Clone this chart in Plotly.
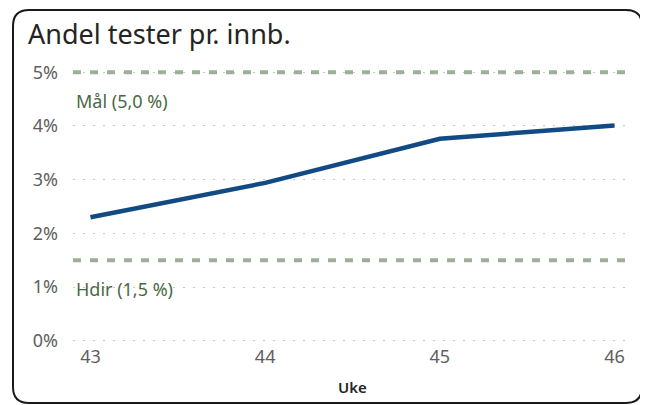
import plotly.graph_objects as go

# data
weeks = [43, 44, 45, 46]
share_tested = [2.30, 2.94, 3.76, 4.01]   # percent
goal_names = ["Mål (5,0 %)", "Hdir (1,5 %)"]
goal_values = [5.0, 1.5]
y_ticks = [0, 1, 2, 3, 4, 5]

# page has an 8px body margin, so the figure is a bit smaller than the window
W, H = 640, 397
L, R, T, B = 65, 16, 61, 61
pw, ph = W - L - R, H - T - B
FONT = "Segoe UI, Noto Sans, sans-serif"


def px(x):
    return (x - L) / pw


def py(y):
    return (H - B - y) / ph


fig = go.Figure()

for name, val in zip(goal_names, goal_values):
    fig.add_trace(go.Scatter(
        x=[42.9, 46.1], y=[val, val], mode="lines",
        line=dict(color="#9EAE9A", width=4, dash="8px,9px"),
        hoverinfo="skip", showlegend=False
    ))

fig.add_trace(go.Scatter(
    x=weeks, y=share_tested, mode="lines",
    line=dict(color="#124A84", width=4.5),
    showlegend=False
))

# goal labels under the lines
for name, val in zip(goal_names, goal_values):
    fig.add_annotation(
        x=0, xref="paper", xanchor="left", xshift=1,
        y=val, yref="y", yanchor="top", yshift=-15,
        text=name, showarrow=False,
        font=dict(family=FONT, size=18, color="#4B6846")
    )

# rounded card border
x0, x1 = px(5), px(634)
y0, y1 = py(2), py(395)
rx, ry = 16 / pw, 16 / ph
path = (f"M {x0+rx},{y0} L {x1-rx},{y0} Q {x1},{y0} {x1},{y0-ry} "
        f"L {x1},{y1+ry} Q {x1},{y1} {x1-rx},{y1} "
        f"L {x0+rx},{y1} Q {x0},{y1} {x0},{y1+ry} "
        f"L {x0},{y0-ry} Q {x0},{y0} {x0+rx},{y0} Z")
fig.add_shape(type="path", path=path, xref="paper", yref="paper",
              line=dict(color="#1a1a1a", width=2), layer="above")

fig.update_layout(
    width=W, height=H,
    margin=dict(l=L, r=R, t=T, b=B),
    paper_bgcolor="white", plot_bgcolor="white",
    title=dict(text="Andel tester pr. innb.", x=20 / W, xanchor="left",
               y=1 - 27 / H, yanchor="middle",
               font=dict(family=FONT, size=27, color="#252423")),
    xaxis=dict(range=[42.9, 46.1], tickvals=weeks, showgrid=False, zeroline=False,
               showline=False, ticks="",
               tickfont=dict(family=FONT, size=18, color="#605E5C"),
               title=dict(text="Uke", standoff=15,
                          font=dict(family=FONT, size=15, color="#252423", weight=600))),
    yaxis=dict(range=[-0.06, 5.06], tickvals=y_ticks, ticktext=[f"{v}%" for v in y_ticks],
               showgrid=True, gridcolor="#C8C6C4", griddash="2px,8px", gridwidth=1,
               zeroline=False, showline=False, ticks="", ticklabelstandoff=14,
               tickfont=dict(family=FONT, size=18, color="#605E5C")),
)

fig.write_html("out.html")
